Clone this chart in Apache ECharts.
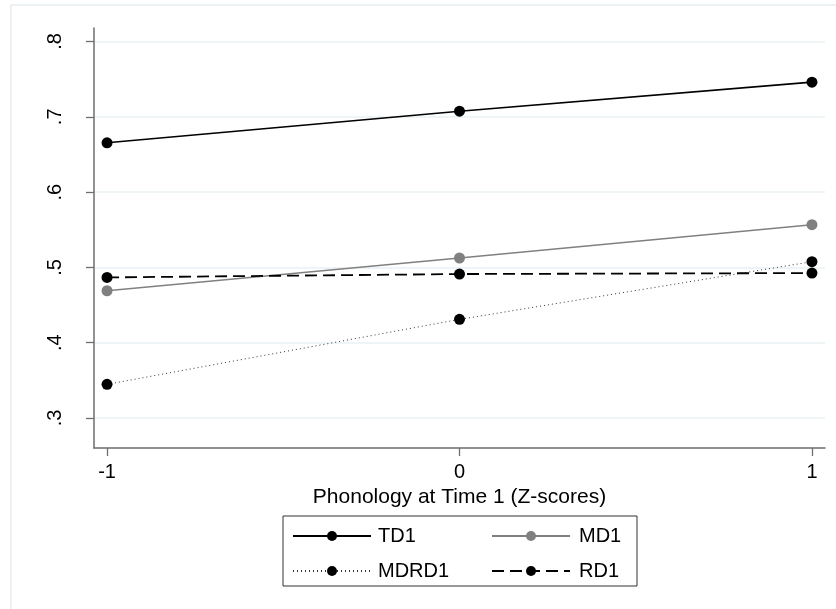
<!DOCTYPE html>
<html>
<head>
<meta charset="utf-8">
<script src="https://cdn.jsdelivr.net/npm/echarts@6/dist/echarts.min.js"></script>
<style>html,body{margin:0;padding:0;background:#fff}#c{width:836px;height:609px}</style>
</head>
<body>
<div id="c"></div>
<script>
const xValues = [-1, 0, 1];
const td1 = [0.6655, 0.7074, 0.746];
const md1 = [0.469, 0.5125, 0.5567];
const mdrd1 = [0.3447, 0.431, 0.5076];
const rd1 = [0.4867, 0.4912, 0.4925];
const yTicks = [0.3, 0.4, 0.5, 0.6, 0.7, 0.8];
const xTicks = [-1, 0, 1];
const xTitle = 'Phonology at Time 1 (Z-scores)';

const FONT = "'Liberation Sans', Arial, sans-serif";
const pairs = arr => xValues.map((x, i) => [x, arr[i]]);

const chart = echarts.init(document.getElementById('c'), null, {renderer: 'canvas'});
const mk = (name, data, color, lineColor, type, width) => ({
  name, type: 'line', data: pairs(data),
  symbol: 'circle', symbolSize: 11,
  itemStyle: {color: color},
  lineStyle: {color: lineColor, width: width, type: type},
  emphasis: {disabled: true},
  animation: false
});

chart.setOption({
  animation: false,
  backgroundColor: '#fff',
  textStyle: {fontFamily: FONT},
  graphic: [
    {type: 'rect', shape: {x: 11, y: 5, width: 900, height: 700},
     style: {fill: 'none', stroke: '#e6eef1', lineWidth: 1.5}, z: -10},
    {type: 'rect', shape: {x: 283, y: 516, width: 354, height: 70},
     style: {fill: '#fff', stroke: '#333', lineWidth: 1}, z: 0}
  ],
  grid: {left: 94, right: 11, top: 28, bottom: 161, containLabel: false},
  xAxis: {
    type: 'value', min: -1.037, max: 1.037,
    axisLine: {show: true, onZero: false, lineStyle: {color: '#6e6e6e', width: 1.5}},
    axisTick: {show: true, length: 8, customValues: xTicks, lineStyle: {color: '#6e6e6e', width: 1.3}},
    axisLabel: {customValues: xTicks, margin: 14, color: '#000', fontSize: 20, fontFamily: FONT,
      formatter: v => String(v)},
    splitLine: {show: false},
    name: xTitle, nameLocation: 'middle', nameGap: 35,
    nameTextStyle: {color: '#000', fontSize: 21, fontFamily: FONT}
  },
  yAxis: {
    type: 'value', min: 0.2602, max: 0.8179,
    axisLine: {show: true, onZero: false, lineStyle: {color: '#6e6e6e', width: 1.5}},
    axisTick: {show: true, length: 8, customValues: yTicks, lineStyle: {color: '#6e6e6e', width: 1.3}},
    axisLabel: {customValues: yTicks, rotate: 90, margin: 29, color: '#000', fontSize: 20, fontFamily: FONT,
      formatter: v => String(Math.round(v * 10) / 10).replace(/^0/, '')},
    splitLine: {show: true, lineStyle: {color: '#eaf2f4', width: 1.5}}
  },
  legend: [
    {data: ['TD1', 'MDRD1'], orient: 'vertical', left: 292, top: 526, padding: 0,
     itemWidth: 78, itemHeight: 12.5, itemGap: 15, selectedMode: false,
     textStyle: {color: '#000', fontSize: 20, lineHeight: 20, fontFamily: FONT, padding: [0, 0, 0, 2]}},
    {data: ['MD1', 'RD1'], orient: 'vertical', left: 491, top: 526, padding: 0,
     itemWidth: 78, itemHeight: 12.5, itemGap: 15, selectedMode: false,
     textStyle: {color: '#000', fontSize: 20, lineHeight: 20, fontFamily: FONT, padding: [0, 0, 0, 4]}}
  ],
  series: [
    mk('TD1', td1, '#000', '#000', 'solid', 1.6),
    mk('MD1', md1, '#808080', '#808080', 'solid', 1.6),
    mk('MDRD1', mdrd1, '#000', '#333', [1, 3], 1),
    mk('RD1', rd1, '#000', '#000', [12, 6], 1.8)
  ]
});
</script>
</body>
</html>
